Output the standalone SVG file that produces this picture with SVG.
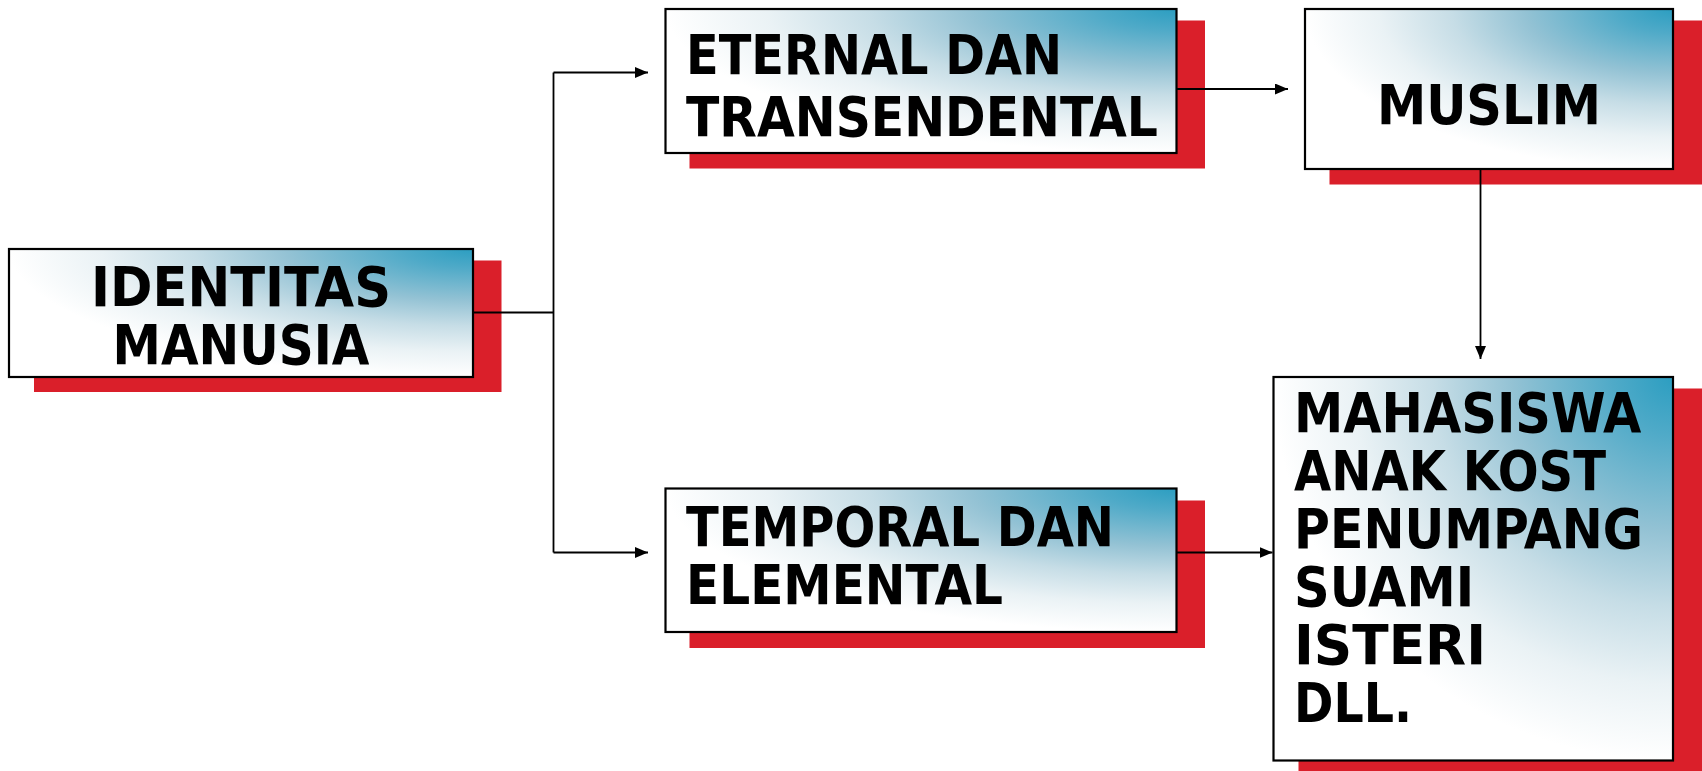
<svg xmlns="http://www.w3.org/2000/svg" width="1702" height="771" viewBox="0 0 1702 771">
<defs>
<radialGradient id="g" cx="1" cy="0" r="1" fx="1" fy="0">
<stop offset="0" stop-color="#2c9ec1"/>
<stop offset="0.15" stop-color="#4faac8"/>
<stop offset="0.4" stop-color="#93c2d4"/>
<stop offset="0.6" stop-color="#c6dde6"/>
<stop offset="0.8" stop-color="#eaf2f5"/>
<stop offset="1" stop-color="#ffffff"/>
</radialGradient>
<marker id="ah" markerUnits="userSpaceOnUse" markerWidth="14" markerHeight="12" refX="13" refY="5.5" orient="auto">
<path d="M0,0 L13,5.5 L0,11 z" fill="#000"/>
</marker>
</defs>
<style>
.sh{fill:#da1f2a}
.bx{fill:url(#g);stroke:#000;stroke-width:2.2}
.t{font-family:"DejaVu Sans Condensed","DejaVu Sans",sans-serif;font-stretch:condensed;font-weight:bold;font-size:55px;fill:#000}
.c{fill:none;stroke:#000;stroke-width:1.8}
</style>
<g id="identitas">
<rect class="sh" x="34" y="260.5" width="467.5" height="131.5"/>
<rect class="bx" x="9" y="249" width="464" height="128"/>
<text class="t" x="241" y="306" text-anchor="middle" textLength="300" lengthAdjust="spacingAndGlyphs">IDENTITAS</text>
<text class="t" x="241" y="364" text-anchor="middle" textLength="257" lengthAdjust="spacingAndGlyphs">MANUSIA</text>
</g>
<g id="eternal">
<rect class="sh" x="689.5" y="20.5" width="515.5" height="148"/>
<rect class="bx" x="665.5" y="9" width="511" height="144"/>
<text class="t" x="686" y="74" textLength="376" lengthAdjust="spacingAndGlyphs">ETERNAL DAN</text>
<text class="t" x="686" y="136" textLength="472" lengthAdjust="spacingAndGlyphs">TRANSENDENTAL</text>
</g>
<g id="muslim">
<rect class="sh" x="1329.5" y="20.5" width="372.5" height="164"/>
<rect class="bx" x="1305" y="9" width="368" height="160"/>
<text class="t" x="1489" y="124" text-anchor="middle">MUSLIM</text>
</g>
<g id="temporal">
<rect class="sh" x="689.5" y="500.5" width="515.5" height="147.5"/>
<rect class="bx" x="665.5" y="488.5" width="511" height="143.5"/>
<text class="t" x="686" y="546" textLength="428" lengthAdjust="spacingAndGlyphs">TEMPORAL DAN</text>
<text class="t" x="686" y="604" textLength="317" lengthAdjust="spacingAndGlyphs">ELEMENTAL</text>
</g>
<g id="mahasiswa">
<rect class="sh" x="1298.5" y="388.5" width="403.5" height="382.5"/>
<rect class="bx" x="1273.5" y="377" width="399.5" height="383.5"/>
<text class="t" x="1294" y="432">MAHASISWA</text>
<text class="t" x="1294" y="490" textLength="312" lengthAdjust="spacingAndGlyphs">ANAK KOST</text>
<text class="t" x="1294" y="548" textLength="349" lengthAdjust="spacingAndGlyphs">PENUMPANG</text>
<text class="t" x="1294" y="606">SUAMI</text>
<text class="t" x="1294" y="664" textLength="192" lengthAdjust="spacingAndGlyphs">ISTERI</text>
<text class="t" x="1294" y="722" textLength="118" lengthAdjust="spacingAndGlyphs">DLL.</text>
</g>
<g id="connectors">
<path class="c" d="M473 312.5 H553.5"/>
<path class="c" d="M553.5 72.5 V552.5"/>
<path class="c" d="M553.5 72.5 H648" marker-end="url(#ah)"/>
<path class="c" d="M553.5 552.5 H648" marker-end="url(#ah)"/>
<path class="c" d="M1176.5 89 H1288" marker-end="url(#ah)"/>
<path class="c" d="M1480.5 169 V359" marker-end="url(#ah)"/>
<path class="c" d="M1176.5 552.5 H1272.5" marker-end="url(#ah)"/>
</g>
</svg>
